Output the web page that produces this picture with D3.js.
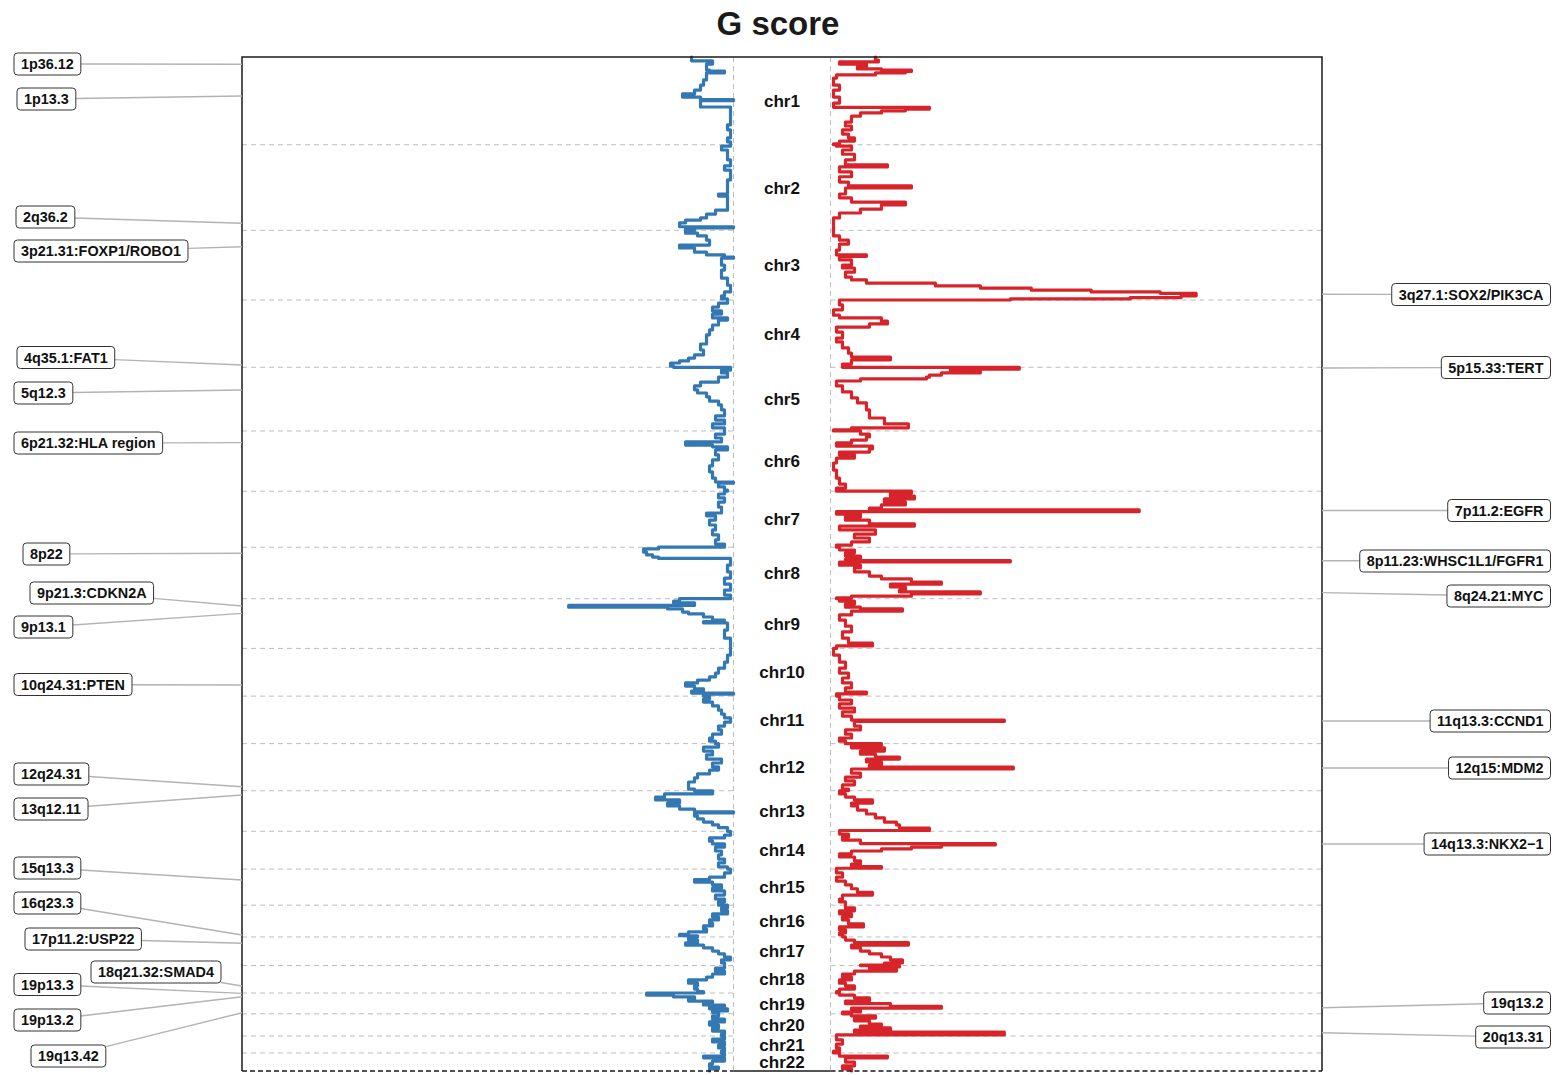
<!DOCTYPE html>
<html>
<head>
<meta charset="utf-8">
<script src="https://cdn.jsdelivr.net/npm/d3@7"></script>
<style>
  body { margin: 0; background: #fff; }
  svg { display: block; font-family: "Liberation Sans", Arial, Helvetica, sans-serif; }
</style>
</head>
<body>
<svg id="chart" width="1555" height="1075"></svg>
<script>
// ---- data -------------------------------------------------------------
const chromosomes = ["chr1","chr2","chr3","chr4","chr5","chr6","chr7","chr8","chr9","chr10","chr11",
  "chr12","chr13","chr14","chr15","chr16","chr17","chr18","chr19","chr20","chr21","chr22"];

// hg19 chromosome lengths, Mb
const chromLengthMb = [249.25, 243.2, 198.02, 191.15, 180.92, 171.12, 159.14, 146.36, 141.21, 135.53,
  135.01, 133.85, 115.17, 107.35, 102.53, 90.35, 81.2, 78.08, 59.13, 63.03, 48.13, 51.3];

// deletion G score per chromosome: [segment start (Mb), G score]
const delScores = [
  [[0,.14],[11,.07],[20,.09],[37,.08],[40,.03],[45,.09],[65,.10],[80,.11],[94,.13],[105,.17],[114,.11],[121,0],[124,.11],[142,.01],[165,.01],[185,.01],[193,.02],[207,.01],[230,.02],[241,.01]],
  [[0,.01],[4,.04],[15,.02],[43,.01],[60,.03],[72,.01],[100,.02],[140,.05],[146,.02],[171,.02],[186,.06],[197,.09],[208,.11],[214,.16],[222,.18],[233,0],[236,.16],[241,.13]],
  [[0,.16],[8,.12],[16,.09],[28,.08],[42,.18],[50,.13],[62,.09],[70,.03],[76,0],[79,.04],[99,.03],[113,.04],[136,.02],[156,.01],[175,.03],[186,.04],[195,.02]],
  [[0,.02],[9,.05],[20,.07],[31,.04],[40,.07],[51,.02],[57,.05],[71,.07],[85,.08],[99,.09],[114,.09],[125,.11],[142,.10],[156,.13],[165,.15],[173,.18],[179,.21],[188,.20]],
  [[0,.01],[8,.04],[16,.02],[28,.05],[42,.11],[53,.13],[64,.12],[73,.09],[84,.08],[96,.05],[107,.04],[121,.03],[138,.06],[150,.03],[161,.07],[172,.03]],
  [[0,.03],[9,.06],[20,.04],[31,.16],[40,.07],[45,.02],[54,.06],[68,.05],[82,.07],[99,.08],[116,.07],[134,.06],[145,0],[148,.05],[159,.03],[168,.02]],
  [[0,.03],[8,.05],[19,.03],[31,.05],[45,.04],[62,.09],[70,.06],[82,.08],[96,.06],[110,.07],[124,.05],[138,.06],[150,.03]],
  [[0,.25],[5,.30],[14,.29],[22,.27],[28,.25],[32,.01],[51,.02],[70,.01],[88,.03],[105,.01],[122,.03],[136,.01]],
  [[0,.18],[7,.20],[12,.13],[19,.55],[24,.22],[29,.17],[38,.15],[43,.10],[52,.07],[61,.03],[65,.10],[69,.02],[89,.03],[112,.01],[131,.01]],
  [[0,.01],[19,.02],[39,.03],[56,.05],[70,.06],[81,.08],[90,.12],[98,.16],[107,.13],[115,.10],[121,.14],[127,0],[130,.10]],
  [[0,.08],[8,.10],[17,.07],[28,.05],[40,.04],[51,.03],[62,.01],[74,.03],[85,.05],[96,.04],[108,.07],[119,.08],[128,.06]],
  [[0,.05],[10,.10],[21,.07],[32,.09],[44,.04],[55,.07],[66,.05],[75,.08],[86,.12],[97,.13],[109,.15],[120,.15],[129,.13]],
  [[0,.07],[9,.23],[18,.26],[26,.18],[35,.22],[43,.18],[52,.13],[60,0],[63,.13],[72,.12],[80,.10],[89,.07],[97,.05],[105,.02]],
  [[0,.01],[11,.03],[19,.08],[28,.07],[36,.03],[45,.06],[56,.04],[67,.05],[79,.03],[90,.05],[101,.02]],
  [[0,.01],[11,.03],[23,.08],[30,.13],[37,.07],[45,.04],[54,.07],[62,.03],[74,.06],[85,.03],[93,.05]],
  [[0,.02],[8,.04],[16,.02],[25,.07],[33,.05],[42,.08],[51,.07],[59,.10],[68,.09],[76,.15],[83,.18],[87,.12]],
  [[0,.15],[9,.12],[17,.16],[23,.10],[31,.07],[40,.05],[48,.03],[57,.01],[65,.04],[74,.03]],
  [[0,.03],[7,.06],[16,.03],[24,.07],[33,.09],[41,.15],[50,.12],[58,.13],[67,.12],[74,.10]],
  [[0,.29],[6,.20],[11,.13],[17,.15],[23,.07],[28,.10],[34,.03],[40,.08],[45,.02],[51,.07],[55,.05]],
  [[0,.05],[6,.07],[15,.03],[23,.08],[32,.05],[40,.07],[49,.03],[57,.04]],
  [[0,.03],[9,.07],[17,.03],[26,.05],[34,.03],[43,.04]],
  [[0,.03],[9,.10],[14,.03],[23,.07],[31,.08],[40,.05],[45,.08]]
];

// amplification G score per chromosome: [segment start (Mb), G score]
const ampScores = [
  [[0,.15],[9,.16],[14,.03],[20,.12],[28,.09],[34,.17],[37,.27],[41,.25],[45,.15],[51,.02],[60,.01],[80,.03],[94,.01],[114,.03],[131,.01],[143,.33],[148,.25],[153,.17],[159,.10],[168,.07],[185,.05],[196,.07],[207,.04],[219,.06],[230,.08],[239,.03],[247,.01]],
  [[0,.02],[4,.07],[15,.04],[27,.08],[43,.05],[57,.19],[63,.03],[77,.07],[91,.03],[106,.06],[117,.27],[123,.05],[140,.03],[151,.07],[163,.25],[171,.17],[183,.10],[194,.03],[208,.01],[231,.01]],
  [[0,.01],[16,.03],[28,.06],[39,.03],[56,.02],[70,.12],[74,.03],[84,.07],[99,.04],[107,.08],[119,.05],[133,.07],[141,.12],[150,.35],[158,.50],[164,.67],[170,.87],[175,1.10],[179,1.22],[186,1.17],[191,1.0],[195,.6]],
  [[0,.03],[14,.04],[28,.01],[43,.03],[51,.17],[60,.19],[68,.13],[77,.02],[91,.04],[108,.02],[119,.04],[136,.06],[151,.07],[162,.20],[170,.07],[182,.04]],
  [[0,.63],[5,.40],[10,.50],[16,.37],[22,.33],[28,.32],[33,.10],[39,.02],[53,.04],[70,.07],[87,.09],[101,.12],[121,.13],[144,.18],[161,.26],[172,.07],[178,.01]],
  [[0,.10],[9,.13],[17,.12],[26,.07],[34,.02],[43,.14],[51,.13],[60,.03],[68,.08],[77,.02],[91,.01],[111,.02],[134,.03],[151,.05],[162,.02]],
  [[0,.27],[5,.20],[14,.28],[22,.18],[31,.25],[39,.17],[48,.13],[53,1.03],[58,.02],[65,.10],[73,.05],[82,.13],[93,.28],[99,.03],[110,.15],[122,.08],[133,.13],[144,.07],[153,.02]],
  [[0,.03],[8,.08],[16,.05],[25,.10],[34,.05],[38,.60],[42,.03],[51,.10],[59,.08],[70,.13],[82,.17],[90,.27],[99,.37],[105,.20],[113,.25],[122,.23],[127,.50],[133,.27],[139,.07],[144,.02]],
  [[0,.03],[7,.08],[15,.05],[24,.10],[29,.24],[35,.07],[46,.03],[61,.05],[78,.07],[94,.04],[112,.06],[126,.14],[134,.02]],
  [[0,.01],[19,.03],[39,.05],[56,.03],[70,.06],[84,.04],[98,.07],[112,.05],[124,.12],[129,.02]],
  [[0,.03],[11,.07],[22,.03],[34,.08],[45,.04],[57,.07],[68,.58],[72,.08],[85,.10],[96,.05],[108,.07],[119,.03],[128,.05]],
  [[0,.17],[4,.07],[12,.18],[21,.10],[30,.15],[38,.23],[44,.12],[52,.17],[61,.13],[67,.61],[72,.07],[84,.10],[95,.05],[106,.08],[117,.04],[129,.06]],
  [[0,.03],[9,.05],[18,.08],[26,.14],[35,.07],[43,.09],[55,.12],[66,.15],[77,.18],[89,.22],[97,.23],[106,.33],[113,.03]],
  [[0,.03],[8,.06],[16,.04],[25,.10],[35,.55],[39,.37],[45,.27],[50,.17],[56,.07],[64,.03],[73,.08],[84,.10],[93,.07],[100,.17],[105,.02]],
  [[0,.02],[11,.04],[23,.02],[34,.05],[45,.07],[56,.09],[66,.14],[74,.04],[85,.03],[93,.05]],
  [[0,.05],[8,.08],[16,.03],[25,.07],[33,.04],[42,.06],[53,.11],[62,.03],[70,.05],[79,.03],[84,.04]],
  [[0,.05],[9,.08],[16,.26],[23,.07],[31,.10],[40,.13],[48,.17],[57,.20],[65,.24],[74,.18],[80,.10]],
  [[0,.23],[4,.13],[10,.22],[16,.08],[24,.04],[33,.07],[41,.03],[50,.05],[58,.08],[67,.03],[74,.02]],
  [[0,.03],[6,.08],[14,.13],[23,.05],[30,.20],[38,.37],[43,.07],[48,.10],[54,.04]],
  [[0,.07],[6,.15],[12,.08],[20,.13],[29,.17],[35,.10],[40,.20],[46,.08],[52,.58],[60,.02]],
  [[0,.02],[11,.04],[23,.02],[34,.03],[43,.01]],
  [[0,.03],[9,.19],[14,.05],[26,.08],[37,.04],[45,.07]]
];

// significant peaks: [label, chromosome index (1-based), position (Mb)]
const delPeaks = [
  ["1p36.12",1,20.7],["1p13.3",1,111],["2q36.2",2,223],["3p21.31:FOXP1/ROBO1",3,46.6],
  ["4q35.1:FAT1",4,184.7],["5q12.3",5,64.5],["6p21.32:HLA region",6,33.2],["8p22",8,17.3],
  ["9p21.3:CDKN2A",9,20.7],["9p13.1",9,41.5],["10q24.31:PTEN",10,104],["12q24.31",12,122.4],
  ["13q12.11",13,12],["15q13.3",15,31],["16q23.3",16,84.7],["17p11.2:USP22",17,17.9],
  ["18q21.32:SMAD4",18,58],["19p13.3",19,1],["19p13.2",19,10.5],["19q13.42",19,56]
];
const ampPeaks = [
  ["3q27.1:SOX2/PIK3CA",3,181.8],["5p15.33:TERT",5,2],["7p11.2:EGFR",7,55],
  ["8p11.23:WHSC1L1/FGFR1",8,38.4],["8q24.21:MYC",8,129],["11q13.3:CCND1",11,70.7],
  ["12q15:MDM2",12,69.3],["14q13.3:NKX2\u22121",14,36],["19q13.2",19,41.8],["20q13.31",20,53.7]
];

// ---- layout -----------------------------------------------------------
// label box placement (left edge x, centre y) for the deletion side
const delLabelSlots = [[14,64],[17,99],[16,217],[14,251],[17,357.5],[14,393],[14,443],[23,554],
  [30,593],[14,627],[14,684.5],[14,774],[14,809],[14,868],[14,903],[25,939],[91,972],[14,984.5],
  [14,1020],[31,1056]];
// label box placement (centre y) for the amplification side, right-aligned
const ampLabelSlots = [294.5,367.5,510.5,561,596,721,768,844,1003,1037];

const frame = { left: 242, right: 1322, top: 57, bottom: 1071 };
const delBase = 733.5, ampBase = 830.5;
const gMax = 1.64;
const blue = "#3378b3", red = "#d6242a";

const svg = d3.select("#chart");

const starts = [];
let acc = 0;
chromLengthMb.forEach(l => { starts.push(acc); acc += l; });
const genomeMb = acc;

const y = d3.scaleLinear().domain([0, genomeMb]).range([frame.top, frame.bottom]);
const xDel = d3.scaleLinear().domain([0, gMax]).range([delBase, frame.left]);
const xAmp = d3.scaleLinear().domain([0, gMax]).range([ampBase, frame.right]);

// title
svg.append("text")
  .attr("x", 778).attr("y", 35)
  .attr("text-anchor", "middle")
  .attr("font-size", 33).attr("font-weight", "bold").attr("fill", "#1a1a1a")
  .text("G score");

// chromosome boundaries
const grid = svg.append("g").attr("stroke", "#bdbdbd").attr("stroke-width", 1).attr("stroke-dasharray", "5,4");
starts.slice(1).forEach(s => {
  const yy = y(s);
  grid.append("line").attr("x1", frame.left).attr("x2", delBase).attr("y1", yy).attr("y2", yy);
  grid.append("line").attr("x1", ampBase).attr("x2", frame.right).attr("y1", yy).attr("y2", yy);
});
// zero baselines
[delBase, ampBase].forEach(x0 => {
  grid.append("line").attr("x1", x0).attr("x2", x0).attr("y1", frame.top).attr("y2", frame.bottom);
});

// genome-wide step traces
function genomeSeries(scores) {
  const pts = [];
  scores.forEach((segs, i) => {
    segs.forEach(([mb, g]) => pts.push({ pos: starts[i] + mb, g }));
    pts.push({ pos: starts[i] + chromLengthMb[i], g: segs[segs.length - 1][1] });
  });
  return pts;
}

const delLine = d3.line().x(d => xDel(d.g)).y(d => y(d.pos)).curve(d3.curveStepBefore);
const ampLine = d3.line().x(d => xAmp(d.g)).y(d => y(d.pos)).curve(d3.curveStepBefore);

svg.append("path").datum(genomeSeries(delScores))
  .attr("d", delLine).attr("fill", "none").attr("stroke", blue)
  .attr("stroke-width", 3.2).attr("stroke-linejoin", "round").attr("stroke-linecap", "round");
svg.append("path").datum(genomeSeries(ampScores))
  .attr("d", ampLine).attr("fill", "none").attr("stroke", red)
  .attr("stroke-width", 3.2).attr("stroke-linejoin", "round").attr("stroke-linecap", "round");

// frame
const fr = svg.append("g").attr("stroke", "#1a1a1a").attr("stroke-width", 1.5).attr("fill", "none");
fr.append("path").attr("d", `M${frame.left},${frame.bottom}V${frame.top}H${frame.right}V${frame.bottom}`);
fr.append("line").attr("x1", delBase).attr("x2", ampBase).attr("y1", frame.bottom).attr("y2", frame.bottom);
fr.append("line").attr("x1", frame.left).attr("x2", delBase).attr("y1", frame.bottom).attr("y2", frame.bottom).attr("stroke-dasharray", "5,3");
fr.append("line").attr("x1", ampBase).attr("x2", frame.right).attr("y1", frame.bottom).attr("y2", frame.bottom).attr("stroke-dasharray", "5,3");

// chromosome names
svg.append("g").selectAll("text").data(chromosomes).join("text")
  .attr("x", (delBase + ampBase) / 2)
  .attr("y", (d, i) => y(starts[i] + chromLengthMb[i] / 2))
  .attr("dy", "0.36em")
  .attr("text-anchor", "middle")
  .attr("font-size", 17).attr("font-weight", "bold").attr("fill", "#111")
  .text(d => d);

// peak labels with leader lines
const labelLayer = svg.append("g");
const lineLayer = labelLayer.append("g").attr("stroke", "#b3b3b3").attr("stroke-width", 1.4);
const boxLayer = labelLayer.append("g");
const boxH = 22, padX = 7;

function edgePoint(cx, cy, w, h, px, py) {
  const dx = px - cx, dy = py - cy;
  const tx = dx === 0 ? Infinity : (w / 2) / Math.abs(dx);
  const ty = dy === 0 ? Infinity : (h / 2) / Math.abs(dy);
  const t = Math.min(tx, ty, 1);
  return [cx + dx * t, cy + dy * t];
}

function drawLabel(name, chrIdx, mb, side, slot) {
  const g = boxLayer.append("g");
  const rect = g.append("rect").attr("fill", "#fff").attr("stroke", "#333").attr("stroke-width", 1).attr("rx", 3.5);
  const txt = g.append("text").attr("font-size", 14.4).attr("font-weight", "bold").attr("fill", "#111")
    .attr("dy", "0.36em").text(name);
  const w = txt.node().getComputedTextLength() + 2 * padX;
  let x0, cy;
  if (side === "del") { x0 = slot[0]; cy = slot[1]; }
  else { x0 = 1550.5 - w; cy = slot; }
  rect.attr("x", x0).attr("y", cy - boxH / 2).attr("width", w).attr("height", boxH);
  txt.attr("x", x0 + padX).attr("y", cy);
  const py = y(starts[chrIdx - 1] + mb);
  const px = side === "del" ? frame.left : frame.right;
  const [sx, sy] = edgePoint(x0 + w / 2, cy, w, boxH, px, py);
  lineLayer.append("line").attr("x1", sx).attr("y1", sy).attr("x2", px).attr("y2", py);
}

delPeaks.forEach((p, i) => drawLabel(p[0], p[1], p[2], "del", delLabelSlots[i]));
ampPeaks.forEach((p, i) => drawLabel(p[0], p[1], p[2], "amp", ampLabelSlots[i]));
</script>
</body>
</html>
